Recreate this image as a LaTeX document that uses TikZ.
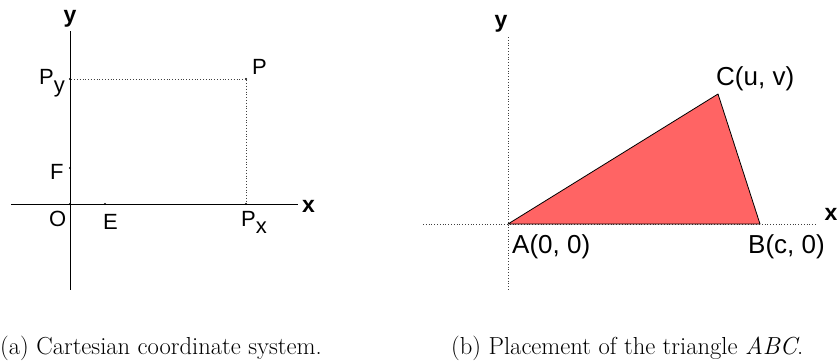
\documentclass[tikz,border=0pt]{standalone}
\usepackage{fontspec}
\setmainfont{Latin Modern Roman}
\newfontfamily\arialf{Liberation Sans}
\begin{document}
\begin{tikzpicture}[x=1pt,y=-1pt,
  lbl/.style={inner sep=0pt,font=\arialf\fontsize{22}{25}\selectfont},
  lblr/.style={inner sep=0pt,font=\arialf\fontsize{26}{30}\selectfont},
  axlbl/.style={inner sep=0pt,font=\arialf\bfseries\fontsize{23}{26}\selectfont},
  captext/.style={inner sep=0pt,anchor=base west,font=\fontsize{24.6}{28}\selectfont},
  axisln/.style={line width=1pt,black},
  guide/.style={line width=0.8pt,dotted,black!75},
  dotpt/.style={circle,fill=black,inner sep=0pt,minimum size=2.2pt}]
\useasboundingbox (0,0) rectangle (838,360);
% ---------- left panel ----------
\coordinate (xl) at (11,204);
\coordinate (xr) at (298,204);
\coordinate (yt) at (70,31);
\coordinate (yb) at (70,290);
\draw[axisln] (xl) -- (xr);
\draw[axisln] (yt) -- (yb);
\node[dotpt] (O) at (70,204) {};
\node[dotpt] (E) at (105,204) {};
\node[dotpt] (F) at (70,168) {};
\node[dotpt] (Py) at (70,79) {};
\node[dotpt] (P) at (246,79) {};
\node[dotpt] (Px) at (246,204) {};
\draw[guide] (Py) -- (P) -- (Px);
\node[axlbl,anchor=base] (xlab) at (308.5,212) {x};
\node[axlbl,anchor=base] (ylab) at (70,22) {y};
\node[lbl,anchor=base west] (Pylab) at (39,84) {P\raisebox{-8pt}{y}};
\node[lbl,anchor=base west] (Plab) at (252,74) {P};
\node[lbl,anchor=base west] (Flab) at (50,179) {F};
\node[lbl,anchor=base west] (Olab) at (49,226) {O};
\node[lbl,anchor=base west] (Elab) at (103,229) {E};
\node[lbl,anchor=base west] (Pxlab) at (241,226) {P\raisebox{-7pt}{x}};
% ---------- right panel ----------
\coordinate (Xl) at (423,224);
\coordinate (Xr) at (817,224);
\coordinate (Yt) at (508,37);
\coordinate (Yb) at (508,290);
\draw[guide] (Xl) -- (Xr);
\draw[guide] (Yt) -- (Yb);
\coordinate (A) at (508,224);
\coordinate (B) at (760,224);
\coordinate (C) at (718,94);
\draw[fill={rgb,255:red,255;green,100;blue,100},line width=0.8pt,line join=round] (A) -- (B) -- (C) -- cycle;
\node[axlbl,anchor=base] (Xlab) at (831,220) {x};
\node[axlbl,anchor=base] (Ylab) at (501,27) {y};
\node[lblr,anchor=base west] (Alab) at (512,253) {A(0, 0)};
\node[lblr,anchor=base west] (Blab) at (748,253) {B(c, 0)};
\node[lblr,anchor=base west] (Clab) at (716,85) {C(u, v)};
% ---------- captions ----------
\node[captext] (capa) at (0,354) {(a) Cartesian coordinate system.};
\node[captext] (capb) at (451,354) {(b) Placement of the triangle \textit{ABC}.};
\end{tikzpicture}
\end{document}
